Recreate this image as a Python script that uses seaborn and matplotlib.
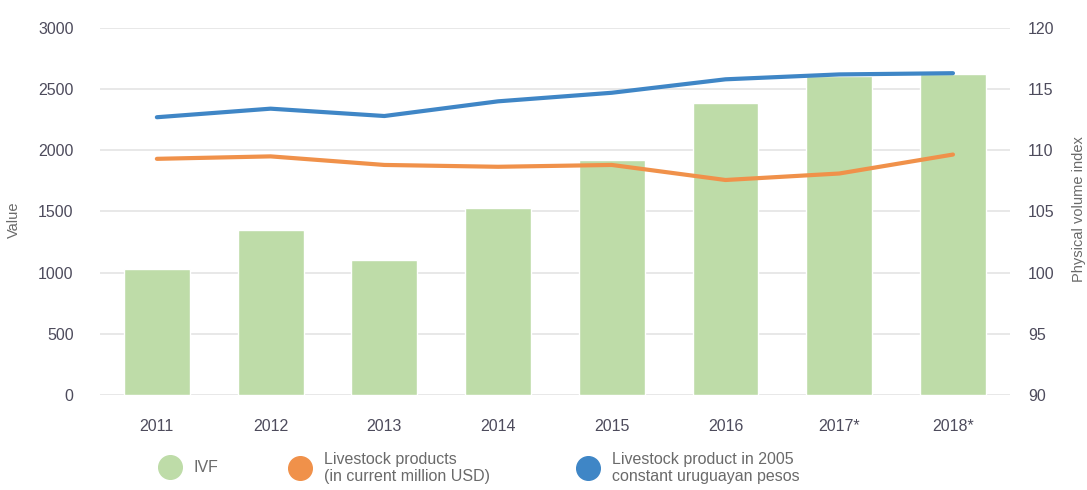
import matplotlib
matplotlib.use("Agg")
import matplotlib.pyplot as plt
from matplotlib.lines import Line2D
import seaborn as sns
import pandas as pd

years = ["2011", "2012", "2013", "2014", "2015", "2016", "2017*", "2018*"]
ivf = [1030, 1345, 1105, 1530, 1920, 2390, 2605, 2620]
livestock_usd = [1930, 1950, 1880, 1865, 1880, 1757, 1810, 1965]
livestock_index = [112.7, 113.4, 112.8, 114.0, 114.7, 115.8, 116.2, 116.3]

df = pd.DataFrame({"year": years, "ivf": ivf, "usd": livestock_usd, "idx": livestock_index})

sns.set_theme(style="white")
plt.rcParams["font.family"] = ["Liberation Sans", "DejaVu Sans"]

GREEN = "#bedca8"
ORANGE = "#f0914a"
BLUE = "#3f86c6"
TICK = "#4d4b5c"
LABEL = "#6a6a6a"

fig = plt.figure(figsize=(10.87, 4.9), dpi=100)
ax = fig.add_axes([0.092, 0.194, 0.837, 0.749])

sns.barplot(data=df, x="year", y="ivf", color=GREEN, width=0.58, saturation=1, ax=ax, zorder=2)
sns.lineplot(data=df, x="year", y="usd", color=ORANGE, linewidth=3.0, ax=ax, zorder=3)
ax.set_ylim(0, 3000)
ax.set_yticks(range(0, 3001, 500))
ax.set_xlim(-0.5, 7.5)
ax.grid(axis="y", color="#e4e4e4", linewidth=1.2, zorder=0)
ax.set_axisbelow(True)

ax2 = ax.twinx()
sns.lineplot(data=df, x="year", y="idx", color=BLUE, linewidth=3.0, ax=ax2, zorder=3)
ax2.set_ylim(90, 120)
ax2.set_yticks(range(90, 121, 5))
ax2.set_xlim(-0.5, 7.5)

for a in (ax, ax2):
    for s in a.spines.values():
        s.set_visible(False)
    a.tick_params(length=0, colors=TICK, labelsize=11.5)

ax.tick_params(axis="x", pad=17)
ax.tick_params(axis="y", pad=19)
ax2.tick_params(axis="y", pad=13)

ax.set_xlabel("")
ax.set_ylabel("Value", color=LABEL, fontsize=10.5)
ax.yaxis.set_label_coords(-0.087, 0.477)
ax2.set_ylabel("Physical volume index", color=LABEL, fontsize=10.5)
ax2.yaxis.set_label_coords(1.068, 0.507)

def legend_item(color, text, x, y):
    h = Line2D([], [], marker="o", linestyle="", markersize=17,
               markerfacecolor=color, markeredgecolor=color)
    return fig.legend([h], [text], loc="center left", bbox_to_anchor=(x, y),
                      frameon=False, fontsize=11.5, handletextpad=0.9,
                      labelcolor=LABEL, borderpad=0, handlelength=1.2)

legend_item(GREEN, "IVF", 0.140, 0.045)
legend_item(ORANGE, "Livestock products\n(in current million USD)", 0.260, 0.045)
legend_item(BLUE, "Livestock product in 2005\nconstant uruguayan pesos", 0.525, 0.045)

fig.savefig("out.png", dpi=100)
